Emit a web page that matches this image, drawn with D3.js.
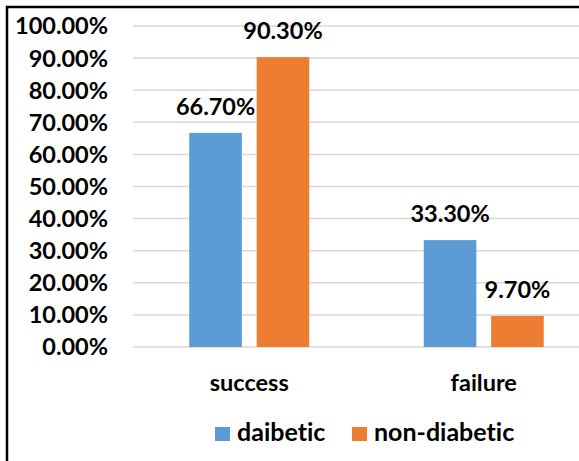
<!DOCTYPE html>
<html>
<head>
<meta charset="utf-8">
<script src="https://cdn.jsdelivr.net/npm/d3@7"></script>
<style>
  body { margin: 0; background: #fff; }
  text { font-family: Lato, "Open Sans", sans-serif; font-weight: bold; fill: #000; font-variant-ligatures: none; }
</style>
</head>
<body>
<div id="main"></div>
<script>
// chart data
const categories = ['success', 'failure'];
const series = ['daibetic', 'non-diabetic'];
const daibetic = [66.7, 33.3];
const nonDiabetic = [90.3, 9.7];
const yTicks = [0, 10, 20, 30, 40, 50, 60, 70, 80, 90, 100];
const colors = ['#5B9BD5', '#ED7D31'];

const width = 579, height = 461;
const margin = { left: 132, right: -22, top: 26, bottom: 114 };

const svg = d3.select('#main')
    .append('svg')
    .attr('width', width)
    .attr('height', height);

const xScale = d3.scaleBand()
    .domain(categories)
    .range([margin.left, width - margin.right]);

const xSub = d3.scaleBand()
    .domain(series)
    .range([-60, 60])
    .paddingInner(0.22);

const yScale = d3.scaleLinear()
    .domain([0, 100])
    .range([height - margin.bottom, margin.top]);

// gridlines
svg.append('g')
    .selectAll('line')
    .data(yTicks)
    .enter()
    .append('line')
    .attr('x1', margin.left + 1)
    .attr('x2', width)
    .attr('y1', d => yScale(d))
    .attr('y2', d => yScale(d))
    .attr('stroke', '#d9d9d9')
    .attr('stroke-width', 1.5);

// y tick labels
svg.append('g')
    .selectAll('text')
    .data(yTicks)
    .enter()
    .append('text')
    .attr('x', 108)
    .attr('y', d => yScale(d))
    .attr('dy', '0.36em')
    .attr('text-anchor', 'end')
    .style('font-size', '23.5px')
    .text(d => d.toFixed(2) + '%');

// bars
const rows = categories.map((c, i) => ({ cat: c, values: [daibetic[i], nonDiabetic[i]] }));

const groups = svg.append('g')
    .selectAll('g')
    .data(rows)
    .enter()
    .append('g')
    .attr('transform', d => `translate(${xScale(d.cat) + xScale.bandwidth() / 2},0)`);

groups.selectAll('rect')
    .data(d => d.values.map((v, j) => ({ s: series[j], v: v, j: j })))
    .enter()
    .append('rect')
    .attr('x', d => xSub(d.s))
    .attr('width', xSub.bandwidth())
    .attr('y', d => yScale(d.v))
    .attr('height', d => yScale(0) - yScale(d.v))
    .attr('fill', d => colors[d.j]);

// data labels
groups.selectAll('text')
    .data(d => d.values.map((v, j) => ({ s: series[j], v: v })))
    .enter()
    .append('text')
    .attr('x', d => xSub(d.s) + xSub.bandwidth() / 2)
    .attr('y', d => yScale(d.v) - 18)
    .attr('text-anchor', 'middle')
    .style('font-size', '23.5px')
    .text(d => d.v.toFixed(2) + '%');

// category labels
svg.append('g')
    .selectAll('text')
    .data(categories)
    .enter()
    .append('text')
    .attr('x', d => xScale(d) + xScale.bandwidth() / 2)
    .attr('y', 391)
    .attr('text-anchor', 'middle')
    .style('font-size', '23.5px')
    .text(d => d);

// legend
const legendX = [215, 352];
const legend = svg.append('g')
    .selectAll('g')
    .data(series)
    .enter()
    .append('g')
    .attr('transform', (d, i) => `translate(${legendX[i]},427)`);

legend.append('rect')
    .attr('width', 15)
    .attr('height', 14)
    .attr('fill', (d, i) => colors[i]);

legend.append('text')
    .attr('x', 22)
    .attr('y', 14)
    .style('font-size', '25px')
    .text(d => d);

// frame (only top and left edges are visible in the crop)
svg.append('path')
    .attr('d', `M7,${height} V7 H${width}`)
    .attr('fill', 'none')
    .attr('stroke', '#000')
    .attr('stroke-width', 2.5);
</script>
</body>
</html>
